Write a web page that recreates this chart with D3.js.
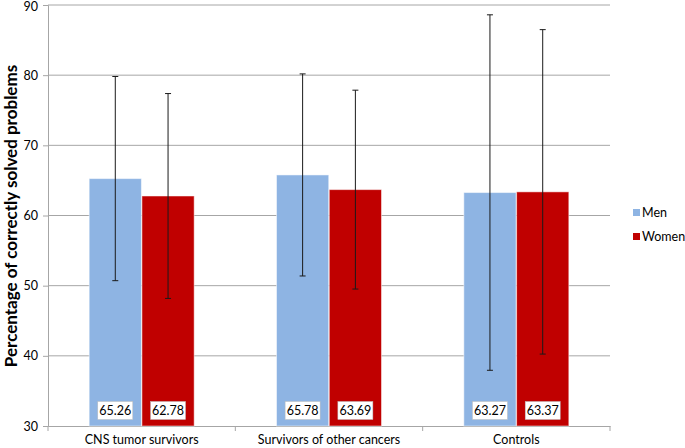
<!DOCTYPE html>
<html lang="en">
<head>
<meta charset="UTF-8">
<title>Correctly solved problems</title>
<script src="https://d3js.org/d3.v7.min.js"></script>
<style>
    body { margin: 0; background: #fff; }
    text { font-family: Lato, "Open Sans", sans-serif; }
</style>
</head>
<body>
<svg width="685" height="448"></svg>
<script>
// data
const categories = ["CNS tumor survivors", "Survivors of other cancers", "Controls"];
const series = ["Men", "Women"];
const menValues = [65.26, 65.78, 63.27];
const womenValues = [62.78, 63.69, 63.37];
const menSD = [14.55, 14.4, 25.33];
const womenSD = [14.6, 14.17, 23.12];
const yTicks = [30, 40, 50, 60, 70, 80, 90];
const colors = ["#8EB4E3", "#C00000"];

const svg = d3.select("svg");
const mLeft = 48, mRight = 610, mTop = 5, mBottom = 426;

const x = d3.scaleBand().domain(categories).range([mLeft, mRight]);
const xs = d3.scaleBand().domain(series).range([0, 105]).paddingInner(0.01);
const y = d3.scaleLinear().domain([30, 90]).range([mBottom, mTop]);

// gridlines
svg.append("g")
    .selectAll("line")
    .data(yTicks.slice(1))
    .join("line")
    .attr("x1", mLeft).attr("x2", mRight)
    .attr("y1", d => y(d)).attr("y2", d => y(d))
    .attr("stroke", "#a6a6a6").attr("stroke-width", 1);

// y axis
const yAxis = svg.append("g")
    .attr("transform", `translate(${mLeft},0)`)
    .call(d3.axisLeft(y).tickValues(yTicks).tickSize(5).tickPadding(5));
yAxis.selectAll("line, path").attr("stroke", "#a6a6a6");
yAxis.selectAll("text").attr("font-size", 12.5).attr("fill", "#000")
    .attr("dy", (d, i) => i === yTicks.length - 1 ? "0.42em" : "0.32em")
    .style("font-family", "Lato, sans-serif");

// x axis
const xAxis = svg.append("g")
    .attr("transform", `translate(0,${mBottom})`)
    .call(d3.axisBottom(x).tickSize(0).tickPadding(9));
xAxis.select("path").attr("stroke", "#a6a6a6");
xAxis.selectAll("text").attr("font-size", 12.5).attr("fill", "#000")
    .style("font-family", "Lato, sans-serif");
// category boundary ticks
svg.append("g")
    .selectAll("line")
    .data(categories.concat(["end"]))
    .join("line")
    .attr("x1", (d, i) => i < categories.length ? x(d) : mRight)
    .attr("x2", (d, i) => i < categories.length ? x(d) : mRight)
    .attr("y1", mBottom).attr("y2", mBottom + 5)
    .attr("stroke", "#a6a6a6");

// bars
const rows = categories.map((c, i) => ({
    cat: c,
    items: [
        { s: "Men", v: menValues[i], sd: menSD[i] },
        { s: "Women", v: womenValues[i], sd: womenSD[i] }
    ]
}));

const groups = svg.append("g")
    .selectAll("g")
    .data(rows)
    .join("g")
    .attr("transform", d => `translate(${x(d.cat) + (x.bandwidth() - 105) / 2},0)`);

groups.selectAll("rect.bar")
    .data(d => d.items)
    .join("rect")
    .attr("class", "bar")
    .attr("x", d => xs(d.s))
    .attr("width", xs.bandwidth())
    .attr("y", d => y(d.v))
    .attr("height", d => mBottom - y(d.v))
    .attr("fill", (d, i) => colors[i])
    .attr("stroke", "#ffffff").attr("stroke-opacity", 0.5).attr("stroke-width", 1);

// error bars
const cap = 3;
groups.selectAll("g.err")
    .data(d => d.items)
    .join("g")
    .attr("class", "err")
    .each(function (d) {
        const g = d3.select(this);
        const cx = xs(d.s) + xs.bandwidth() / 2;
        g.append("line").attr("x1", cx).attr("x2", cx)
            .attr("y1", y(d.v + d.sd)).attr("y2", y(d.v - d.sd));
        g.append("line").attr("x1", cx - cap).attr("x2", cx + cap)
            .attr("y1", y(d.v + d.sd)).attr("y2", y(d.v + d.sd));
        g.append("line").attr("x1", cx - cap).attr("x2", cx + cap)
            .attr("y1", y(d.v - d.sd)).attr("y2", y(d.v - d.sd));
    })
    .selectAll("line").attr("stroke", "#1a1a1a").attr("stroke-width", 1);

// value labels
const lab = groups.selectAll("g.lab")
    .data(d => d.items)
    .join("g")
    .attr("class", "lab");
lab.append("rect")
    .attr("x", d => xs(d.s) + xs.bandwidth() / 2 - 17.5)
    .attr("y", y(30) - 24.5)
    .attr("width", 35).attr("height", 18)
    .attr("fill", "#fff").attr("stroke", "#bbb").attr("stroke-width", 0.5);
lab.append("text")
    .attr("x", d => xs(d.s) + xs.bandwidth() / 2)
    .attr("y", y(30) - 11)
    .attr("text-anchor", "middle")
    .attr("font-size", 12.5)
    .text(d => d.v.toFixed(2));

// y label
svg.append("text")
    .attr("transform", "translate(16.5,216) rotate(-90)")
    .attr("text-anchor", "middle")
    .attr("font-size", 17)
    .attr("font-weight", "bold")
    .text("Percentage of correctly solved problems");

// legend
const legend = svg.append("g")
    .selectAll("g")
    .data(series)
    .join("g")
    .attr("transform", (d, i) => `translate(633,${209 + i * 24})`);
legend.append("rect").attr("width", 7).attr("height", 7)
    .attr("fill", (d, i) => colors[i]);
legend.append("text").attr("x", 9).attr("y", 8)
    .attr("font-size", 12.5).text(d => d);
</script>
</body>
</html>
